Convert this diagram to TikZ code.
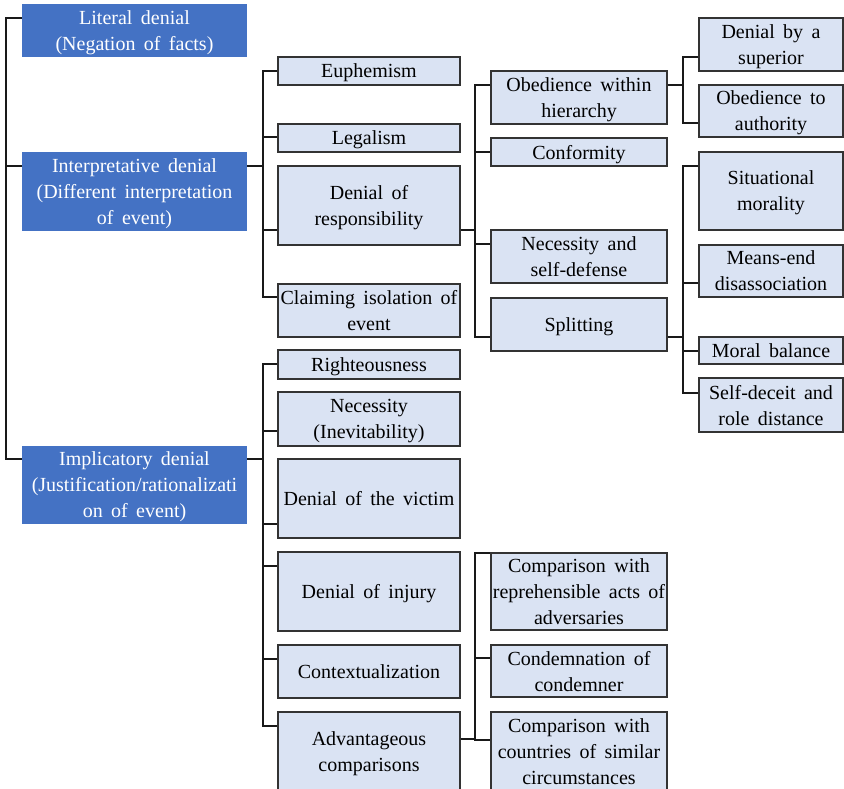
\documentclass[tikz,border=0pt]{standalone}
\usepackage{fontspec}
\setmainfont{Liberation Serif}
\usepackage{tikz}
\usetikzlibrary{positioning}
\definecolor{bleu}{HTML}{4472C4}
\definecolor{bleuclair}{HTML}{DAE3F3}
\newcommand{\policeboite}{\fontsize{20}{26}\selectfont\spaceskip 0.42em\relax}
\tikzstyle{texte} = [align=center,inner sep=0pt,text depth=0pt,font=\policeboite]
\tikzstyle{racine} = [texte,fill=bleu,text=white]
\tikzstyle{boite} = [texte,draw=black!80,fill=bleuclair,line width=1.2pt]
\tikzstyle{lien} = [line width=1.1pt,black!90]

\begin{document}
\begin{tikzpicture}[x=1pt,y=-1pt]
	\useasboundingbox (0,0) rectangle (844,789);
	\clip (0,0) rectangle (844,789);

	% racines
	\node[racine,minimum width=225,minimum height=53] (lit) at (134.5,30.5) {Literal denial\\(Negation of facts)};
	\node[racine,minimum width=225,minimum height=79] (int) at (134.5,191.5) {Interpretative denial\\(Different interpretation\\of event)};
	\node[racine,minimum width=225,minimum height=78] (imp) at (134.5,485) {Implicatory denial\\(Justification/rationalizati\\on of event)};

	% niveau 2
	\node[boite,minimum width=182,minimum height=28] (eu) at (369,71) {Euphemism};
	\node[boite,minimum width=182,minimum height=28] (leg) at (369,138) {Legalism};
	\node[boite,minimum width=182,minimum height=79] (dr) at (369,205.5) {Denial of\\responsibility};
	\node[boite,minimum width=182,minimum height=53] (ci) at (369,310.5) {Claiming isolation of\\event};
	\node[boite,minimum width=182,minimum height=29] (rig) at (369,364.5) {Righteousness};
	\node[boite,minimum width=182,minimum height=54] (nec) at (369,419) {Necessity\\(Inevitability)};
	\node[boite,minimum width=182,minimum height=79] (dv) at (369,498.5) {Denial of the victim};
	\node[boite,minimum width=182,minimum height=79] (di) at (369,591.5) {Denial of injury};
	\node[boite,minimum width=182,minimum height=53] (ctx) at (369,671.5) {Contextualization};
	\node[boite,minimum width=182,minimum height=79] (adv) at (369,751.5) {Advantageous\\comparisons};

	% niveau 3
	\node[boite,minimum width=176,minimum height=53] (obh) at (579,97.5) {Obedience within\\hierarchy};
	\node[boite,minimum width=176,minimum height=28] (conf) at (579,152) {Conformity};
	\node[boite,minimum width=176,minimum height=53] (nsd) at (579,256.5) {Necessity and\\self-defense};
	\node[boite,minimum width=176,minimum height=53] (spl) at (579,324.5) {Splitting};
	\node[boite,minimum width=176,minimum height=77] (cra) at (579,591.5) {Comparison with\\reprehensible acts of\\adversaries};
	\node[boite,minimum width=176,minimum height=52] (cc) at (579,671) {Condemnation of\\condemner};
	\node[boite,minimum width=176,minimum height=80] (ccs) at (579,752) {Comparison with\\countries of similar\\circumstances};

	% niveau 4
	\node[boite,minimum width=144,minimum height=53] (dbs) at (771,44.5) {Denial by a\\superior};
	\node[boite,minimum width=144,minimum height=52] (ota) at (771,111) {Obedience to\\authority};
	\node[boite,minimum width=144,minimum height=78] (sm) at (771,191) {Situational\\morality};
	\node[boite,minimum width=144,minimum height=52] (me) at (771,271) {Means-end\\disassociation};
	\node[boite,minimum width=144,minimum height=27] (mb) at (771,350.5) {Moral balance};
	\node[boite,minimum width=144,minimum height=54] (sd) at (771,405) {Self-deceit and\\role distance};

	% liens
	\draw[lien] (lit.west |- 0,18) -| (6,459) -- (imp.west |- 0,459);
	\draw[lien] (6,166) -- (int.west |- 0,166);

	\draw[lien] (int.east |- 0,166) -- (263,166);
	\draw[lien] (eu.west |- 0,71) -| (263,297) -- (ci.west |- 0,297);
	\draw[lien] (263,137) -- (leg.west |- 0,137);
	\draw[lien] (263,230) -- (dr.west |- 0,230);

	\draw[lien] (dr.east |- 0,230) -- (475,230);
	\draw[lien] (obh.west |- 0,85) -| (475,337) -- (spl.west |- 0,337);
	\draw[lien] (475,152) -- (conf.west |- 0,152);
	\draw[lien] (475,244) -- (nsd.west |- 0,244);

	\draw[lien] (obh.east |- 0,85) -- (683,85);
	\draw[lien] (dbs.west |- 0,57) -| (683,123) -- (ota.west |- 0,123);

	\draw[lien] (spl.east |- 0,337) -- (683,337);
	\draw[lien] (sm.west |- 0,166) -| (683,393) -- (sd.west |- 0,393);
	\draw[lien] (683,283) -- (me.west |- 0,283);
	\draw[lien] (683,351) -- (mb.west |- 0,351);

	\draw[lien] (imp.east |- 0,459) -- (263,459);
	\draw[lien] (rig.west |- 0,364) -| (263,726) -- (adv.west |- 0,726);
	\draw[lien] (263,431) -- (nec.west |- 0,431);
	\draw[lien] (263,524) -- (dv.west |- 0,524);
	\draw[lien] (263,566) -- (di.west |- 0,566);
	\draw[lien] (263,659) -- (ctx.west |- 0,659);

	\draw[lien] (adv.east |- 0,739) -- (475,739);
	\draw[lien] (cra.west |- 0,553) -| (475,740) -- (ccs.west |- 0,740);
	\draw[lien] (475,658) -- (cc.west |- 0,658);
\end{tikzpicture}
\end{document}
